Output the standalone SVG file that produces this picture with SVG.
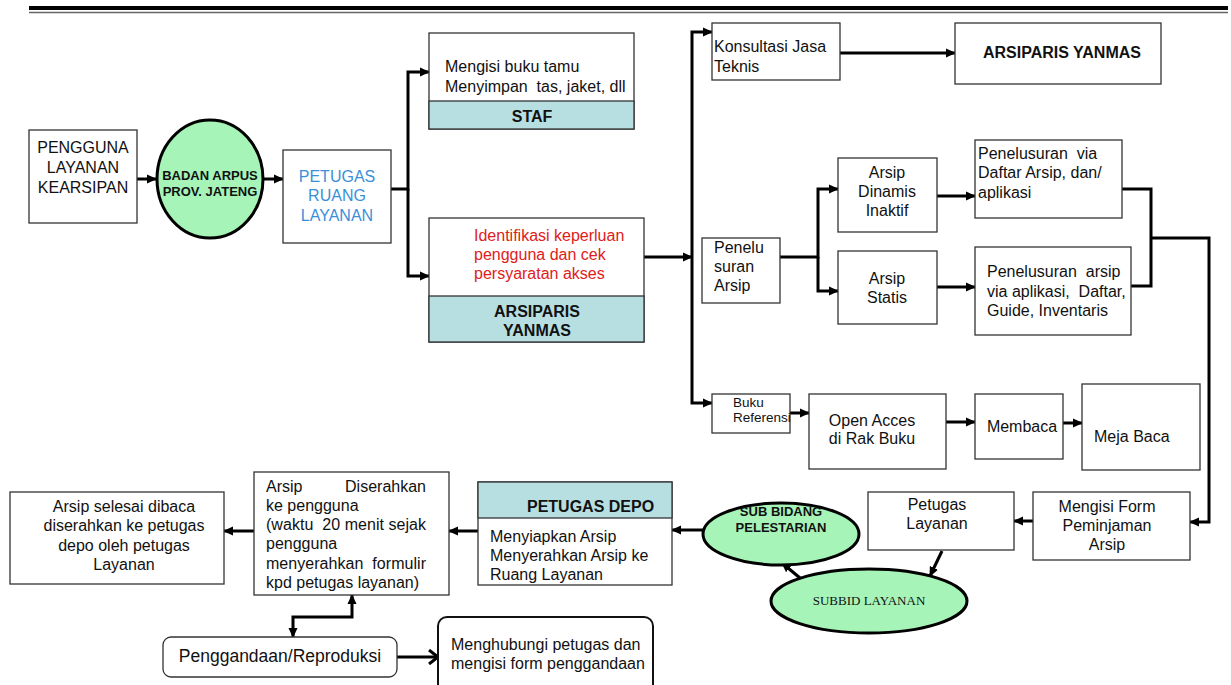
<svg xmlns="http://www.w3.org/2000/svg" width="1231" height="685" viewBox="0 0 1231 685">
<style>
.box{fill:#fff;stroke:#333;stroke-width:1.3}
.band{fill:#b7dfe1;stroke:#333;stroke-width:1.3}
.ell{fill:#a6f4b8;stroke:#000;stroke-width:3}
.t{font-family:"Liberation Sans",Arial,sans-serif;font-size:16px;fill:#111}
.c{text-anchor:middle}
.e{text-anchor:end}
.b{font-weight:bold}
.blue{fill:#3a8fd9}
.red{fill:#e02020}
.conn{stroke:#000;stroke-width:3;fill:none}
</style>
<defs>
<marker id="ah" markerUnits="userSpaceOnUse" markerWidth="10" markerHeight="10" refX="9" refY="5" orient="auto-start-reverse">
<path d="M0,0.5 L10,5 L0,9.5 z" fill="#000"/>
</marker>
<marker id="oh" markerUnits="userSpaceOnUse" markerWidth="14" markerHeight="16" refX="11" refY="8" orient="auto">
<path d="M2,1 L11,8 L2,15" fill="none" stroke="#000" stroke-width="3"/>
</marker>
</defs>
<rect width="1231" height="685" fill="#fff"/>
<line x1="29" y1="8" x2="1228" y2="8" stroke="#000" stroke-width="4"/>
<line x1="29" y1="12.5" x2="1228" y2="12.5" stroke="#666" stroke-width="1.5"/>

<g id="connectors">
<path class="conn" d="M137,179 H156" marker-end="url(#ah)"/>
<path class="conn" d="M264,179 H283" marker-end="url(#ah)"/>
<path class="conn" d="M391,189 H408 V72 H429" marker-end="url(#ah)"/>
<path class="conn" d="M408,189 V276 H429" marker-end="url(#ah)"/>
<path class="conn" d="M644,257 H692" marker-end="url(#ah)"/>
<path class="conn" d="M692,257 V32 H712" marker-end="url(#ah)"/>
<path class="conn" d="M692,257 V403 H712" marker-end="url(#ah)"/>
<path class="conn" d="M840,53 H955" marker-end="url(#ah)"/>
<path class="conn" d="M780,257 H818 V189 H838" marker-end="url(#ah)"/>
<path class="conn" d="M818,257 V291 H838" marker-end="url(#ah)"/>
<path class="conn" d="M937,196 H975" marker-end="url(#ah)"/>
<path class="conn" d="M937,287 H975" marker-end="url(#ah)"/>
<path class="conn" d="M1122,189 H1151 V286 H1131"/>
<path class="conn" d="M1151,238 H1209 V522 H1190" marker-end="url(#ah)"/>
<path class="conn" d="M790,413 H809" marker-end="url(#ah)"/>
<path class="conn" d="M946,422 H975" marker-end="url(#ah)"/>
<path class="conn" d="M1063,423 H1082" marker-end="url(#ah)"/>
<path class="conn" d="M1033,521 H1014" marker-end="url(#ah)"/>
<path class="conn" d="M942,551 L930,576" marker-end="url(#ah)"/>
<path class="conn" d="M800,578 L782,563" marker-end="url(#ah)"/>
<path class="conn" d="M703,530 H672" marker-end="url(#ah)"/>
<path class="conn" d="M478,531 H449" marker-end="url(#ah)"/>
<path class="conn" d="M254,531 H224" marker-end="url(#ah)"/>
<path class="conn" d="M352,595 V617 H293 V637" marker-start="url(#ah)" marker-end="url(#ah)"/>
<path class="conn" d="M397,657 H438" marker-end="url(#oh)"/>
</g>

<g id="pengguna">
<rect class="box" x="29" y="130" width="108" height="93"/>
<text class="t c" x="83" y="153">PENGGUNA</text>
<text class="t c" x="83" y="173">LAYANAN</text>
<text class="t c" x="83" y="193">KEARSIPAN</text>
</g>

<g id="badan-arpus">
<ellipse class="ell" cx="210" cy="179" rx="53" ry="59"/>
<text class="t c b" x="210" y="180" style="font-size:13px">BADAN ARPUS</text>
<text class="t c b" x="210" y="196" style="font-size:13px">PROV. JATENG</text>
</g>

<g id="petugas-ruang">
<rect class="box" x="283" y="150" width="108" height="93"/>
<text class="t c blue" x="337" y="182">PETUGAS</text>
<text class="t c blue" x="337" y="201">RUANG</text>
<text class="t c blue" x="337" y="221">LAYANAN</text>
</g>

<g id="staf">
<rect class="box" x="429" y="33" width="205" height="96"/>
<rect class="band" x="429" y="101" width="205" height="28"/>
<text class="t" x="445" y="72">Mengisi buku tamu</text>
<text class="t" x="445" y="92" xml:space="preserve">Menyimpan  tas, jaket, dll</text>
<text class="t c b" x="532" y="122">STAF</text>
</g>

<g id="arsiparis-identifikasi">
<rect class="box" x="429" y="218" width="215" height="124"/>
<rect class="band" x="429" y="296" width="215" height="46"/>
<text class="t red" x="474" y="241">Identifikasi keperluan</text>
<text class="t red" x="474" y="260">pengguna dan cek</text>
<text class="t red" x="474" y="279">persyaratan akses</text>
<text class="t c b" x="537" y="317">ARSIPARIS</text>
<text class="t c b" x="537" y="336">YANMAS</text>
</g>

<g id="konsultasi">
<rect class="box" x="712" y="23" width="128" height="57"/>
<text class="t" x="714" y="52">Konsultasi Jasa</text>
<text class="t" x="714" y="72">Teknis</text>
</g>

<g id="arsiparis-yanmas">
<rect class="box" x="955" y="23" width="206" height="61"/>
<text class="t b" x="983" y="58" style="font-size:16px">ARSIPARIS YANMAS</text>
</g>

<g id="penelusuran-arsip">
<rect class="box" x="702" y="238" width="78" height="65"/>
<text class="t" x="714" y="253">Penelu</text>
<text class="t" x="714" y="272">suran</text>
<text class="t" x="714" y="291">Arsip</text>
</g>

<g id="arsip-dinamis">
<rect class="box" x="838" y="158" width="99" height="74"/>
<text class="t c" x="887" y="178">Arsip</text>
<text class="t c" x="887" y="197">Dinamis</text>
<text class="t c" x="887" y="216">Inaktif</text>
</g>

<g id="arsip-statis">
<rect class="box" x="838" y="251" width="99" height="73"/>
<text class="t c" x="887" y="284">Arsip</text>
<text class="t c" x="887" y="303">Statis</text>
</g>

<g id="penelusuran-via">
<rect class="box" x="975" y="140" width="147" height="78"/>
<text class="t" x="978" y="159" xml:space="preserve">Penelusuran  via</text>
<text class="t" x="978" y="178">Daftar Arsip, dan/</text>
<text class="t" x="978" y="198">aplikasi</text>
</g>

<g id="penelusuran-aplikasi">
<rect class="box" x="975" y="247" width="156" height="88"/>
<text class="t" x="987" y="277" xml:space="preserve">Penelusuran  arsip</text>
<text class="t" x="987" y="297" xml:space="preserve">via aplikasi,  Daftar,</text>
<text class="t" x="987" y="316">Guide, Inventaris</text>
</g>

<g id="buku-referensi">
<rect class="box" x="712" y="394" width="78" height="39"/>
<text class="t" x="733" y="407" style="font-size:13.5px">Buku</text>
<text class="t" x="733" y="422" style="font-size:13.5px">Referensi</text>
</g>

<g id="open-acces">
<rect class="box" x="809" y="394" width="137" height="75"/>
<text class="t c" x="872" y="426">Open Acces</text>
<text class="t c" x="872" y="444">di Rak Buku</text>
</g>

<g id="membaca">
<rect class="box" x="975" y="394" width="88" height="65"/>
<text class="t c" x="1022" y="432">Membaca</text>
</g>

<g id="meja-baca">
<rect class="box" x="1082" y="384" width="118" height="86"/>
<text class="t" x="1094" y="442">Meja Baca</text>
</g>

<g id="mengisi-form">
<rect class="box" x="1033" y="492" width="157" height="68"/>
<text class="t c" x="1107" y="512">Mengisi Form</text>
<text class="t c" x="1107" y="531">Peminjaman</text>
<text class="t c" x="1107" y="550">Arsip</text>
</g>

<g id="petugas-layanan">
<rect class="box" x="868" y="492" width="146" height="58"/>
<text class="t c" x="937" y="510">Petugas</text>
<text class="t c" x="937" y="529">Layanan</text>
</g>

<g id="subbid-layanan">
<ellipse class="ell" cx="869" cy="601" rx="98" ry="32"/>
<text x="869" y="605" text-anchor="middle" style="font-family:'Liberation Serif','Times New Roman',serif;font-size:13px;fill:#111">SUBBID LAYANAN</text>
</g>

<g id="sub-bidang-pelestarian">
<ellipse class="ell" cx="781" cy="534" rx="78" ry="31"/>
<text class="t c b" x="781" y="516" style="font-size:13px">SUB BIDANG</text>
<text class="t c b" x="781" y="532" style="font-size:13px">PELESTARIAN</text>
</g>

<g id="petugas-depo">
<rect class="box" x="478" y="482" width="194" height="103"/>
<rect class="band" x="478" y="482" width="194" height="36"/>
<text class="t b" x="527" y="512">PETUGAS DEPO</text>
<text class="t" x="490" y="542">Menyiapkan Arsip</text>
<text class="t" x="490" y="561">Menyerahkan Arsip ke</text>
<text class="t" x="490" y="580">Ruang Layanan</text>
</g>

<g id="arsip-diserahkan">
<rect class="box" x="254" y="472" width="195" height="123"/>
<text class="t" x="266" y="492">Arsip</text>
<text class="t e" x="426" y="492">Diserahkan</text>
<text class="t" x="266" y="511">ke pengguna</text>
<text class="t" x="266" y="530" textLength="160" xml:space="preserve">(waktu  20 menit sejak</text>
<text class="t" x="266" y="549">pengguna</text>
<text class="t" x="266" y="569" textLength="160" xml:space="preserve">menyerahkan  formulir</text>
<text class="t" x="266" y="588">kpd petugas layanan)</text>
</g>

<g id="arsip-selesai">
<rect class="box" x="10" y="492" width="214" height="92"/>
<text class="t c" x="124" y="512">Arsip selesai dibaca</text>
<text class="t c" x="124" y="531">diserahkan ke petugas</text>
<text class="t c" x="124" y="551">depo oleh petugas</text>
<text class="t c" x="124" y="570">Layanan</text>
</g>

<g id="penggandaan">
<rect class="box" x="163" y="637" width="234" height="40" rx="8"/>
<text class="t c" x="280" y="662" style="font-size:17.5px">Penggandaan/Reproduksi</text>
</g>

<g id="menghubungi">
<rect x="438" y="617" width="215" height="85" rx="9" fill="#fff" stroke="#111" stroke-width="2"/>
<text class="t" x="451" y="650">Menghubungi petugas dan</text>
<text class="t" x="451" y="669">mengisi form penggandaan</text>
</g>
</svg>
